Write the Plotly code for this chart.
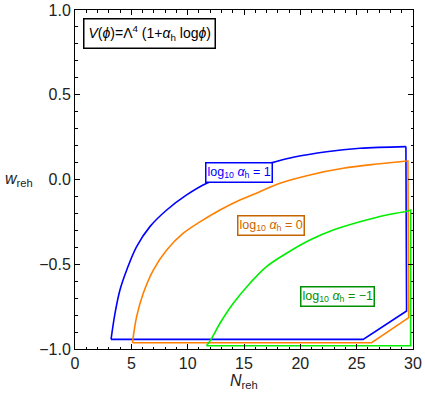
import plotly.graph_objects as go

# Data
# curved part of each contour (N_reh, w_reh)
blue_curve_N = [3.2, 3.55, 3.99, 4.59, 5.47, 6.65, 8.14, 9.91, 11.69, 14.6, 17.6, 19.37, 22.33, 25.29, 29.37]
blue_curve_w = [-0.943, -0.79, -0.652, -0.534, -0.396, -0.278, -0.180, -0.091, -0.022, 0.045, 0.101, 0.131, 0.164, 0.184, 0.194]
# straight boundary part of each contour
blue_edge_N = [29.37, 29.43, 25.58, 3.2]
blue_edge_w = [0.194, -0.776, -0.943, -0.943]

orange_curve_N = [5.1, 5.47, 6.06, 6.95, 8.14, 9.61, 11.09, 12.87, 14.64, 16.4, 18.19, 20.85, 23.8, 26.77, 29.45]
orange_curve_w = [-0.963, -0.809, -0.671, -0.534, -0.416, -0.317, -0.250, -0.180, -0.121, -0.072, -0.022, 0.027, 0.066, 0.091, 0.109]
orange_edge_N = [29.45, 29.55, 29.62, 26.33, 5.1]
orange_edge_w = [0.109, 0.109, -0.815, -0.963, -0.963]

green_curve_N = [11.68, 12.13, 12.87, 14.05, 15.53, 17.0, 18.78, 20.85, 22.92, 25.29, 27.66, 29.28]
green_curve_w = [-0.981, -0.937, -0.848, -0.730, -0.612, -0.514, -0.435, -0.357, -0.298, -0.249, -0.209, -0.19]
green_edge_N = [29.28, 29.79, 29.79, 11.68]
green_edge_w = [-0.19, -0.18, -0.981, -0.981]

x_ticks = [0, 5, 10, 15, 20, 25, 30]
y_ticks = [-1.0, -0.5, 0.0, 0.5, 1.0]

FONT = "Liberation Sans, Arial, sans-serif"

fig = go.Figure()
series = [
    (blue_curve_N, blue_curve_w, blue_edge_N, blue_edge_w, "#0000ff"),
    (orange_curve_N, orange_curve_w, orange_edge_N, orange_edge_w, "#ff8000"),
    (green_curve_N, green_curve_w, green_edge_N, green_edge_w, "#00ee00"),
]
for cx, cy, ex, ey, col in series:
    fig.add_trace(go.Scatter(x=cx, y=cy, mode="lines",
                             line=dict(color=col, width=1.6, shape="spline", smoothing=1.0),
                             showlegend=False, hoverinfo="skip"))
    fig.add_trace(go.Scatter(x=ex, y=ey, mode="lines",
                             line=dict(color=col, width=1.6),
                             showlegend=False, hoverinfo="skip"))

axis_common = dict(showline=True, mirror="allticks", linecolor="black", linewidth=1,
                   ticks="inside", ticklen=5, tickwidth=1, tickcolor="black",
                   showgrid=False, zeroline=False, automargin=False,
                   tickfont=dict(family=FONT, size=16, color="#222222"))

fig.update_xaxes(range=[0, 30], tickvals=x_ticks,
                 minor=dict(ticks="inside", dtick=1, ticklen=2.5, tickcolor="black", tickwidth=1),
                 **axis_common)
fig.update_yaxes(range=[-1, 1], tickvals=y_ticks, tickformat=".1f",
                 minor=dict(ticks="inside", dtick=0.1, ticklen=2.5, tickcolor="black", tickwidth=1),
                 **axis_common)

annotations = [
    dict(x=-0.165, y=0.50, xref="paper", yref="paper", xanchor="center", yanchor="middle",
         text="<i>w</i><sub>reh</sub>", showarrow=False,
         font=dict(family=FONT, size=16, color="#222222")),
    dict(x=0.5, y=-0.095, xref="paper", yref="paper", xanchor="center", yanchor="middle",
         text="<i>N</i><sub>reh</sub>", showarrow=False,
         font=dict(family=FONT, size=16, color="#222222")),
    dict(x=6.6, y=0.86, xref="x", yref="y", xanchor="center", yanchor="middle",
         text="<i>V</i>(<i>ϕ</i>)=Λ<sup>4</sup> (1+<i>α</i><sub>h</sub> log<i>ϕ</i>)",
         showarrow=False, bgcolor="white", bordercolor="black", borderwidth=1.5, borderpad=4,
         font=dict(family=FONT, size=14, color="black")),
    dict(x=14.6, y=0.040, xref="x", yref="y", xanchor="center", yanchor="middle",
         text="log<sub>10</sub> <i>α</i><sub>h</sub> = 1",
         showarrow=False, bgcolor="white", bordercolor="#0000ff", borderwidth=1.5, borderpad=1,
         font=dict(family=FONT, size=12.5, color="#0000ff")),
    dict(x=17.42, y=-0.270, xref="x", yref="y", xanchor="center", yanchor="middle",
         text="log<sub>10</sub> <i>α</i><sub>h</sub> = 0",
         showarrow=False, bgcolor="white", bordercolor="#c86400", borderwidth=1.5, borderpad=1,
         font=dict(family=FONT, size=12.5, color="#c86400")),
    dict(x=23.29, y=-0.691, xref="x", yref="y", xanchor="center", yanchor="middle",
         text="log<sub>10</sub> <i>α</i><sub>h</sub> = −1",
         showarrow=False, bgcolor="white", bordercolor="#009000", borderwidth=1.5, borderpad=1,
         font=dict(family=FONT, size=12.5, color="#009000")),
]

fig.update_layout(width=425, height=397,
                  margin=dict(l=75, r=12, t=10, b=48),
                  paper_bgcolor="white", plot_bgcolor="white",
                  annotations=annotations)

fig.write_html("out.html", config={"displayModeBar": False},
               post_script="document.body.style.margin='0';document.body.style.overflow='hidden';")
